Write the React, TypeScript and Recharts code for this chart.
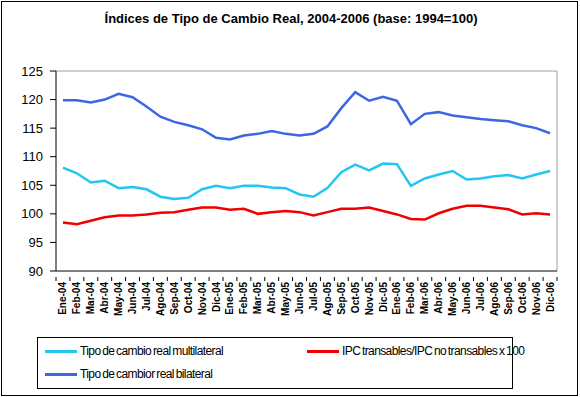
import { LineChart, Line, XAxis, YAxis, ReferenceLine } from "recharts";

const months = [
  "Ene-04", "Feb-04", "Mar-04", "Abr-04", "May-04", "Jun-04", "Jul-04", "Ago-04", "Sep-04", "Oct-04", "Nov-04", "Dic-04",
  "Ene-05", "Feb-05", "Mar-05", "Abr-05", "May-05", "Jun-05", "Jul-05", "Ago-05", "Sep-05", "Oct-05", "Nov-05", "Dic-05",
  "Ene-06", "Feb-06", "Mar-06", "Abr-06", "May-06", "Jun-06", "Jul-06", "Ago-06", "Sep-06", "Oct-06", "Nov-06", "Dic-06",
];

const multilateral = [
  108.1, 107.1, 105.5, 105.8, 104.5, 104.7, 104.3, 103.0, 102.6, 102.8, 104.3, 104.9,
  104.5, 104.9, 104.9, 104.6, 104.5, 103.4, 103.0, 104.5, 107.3, 108.6, 107.6, 108.8,
  108.7, 104.9, 106.2, 106.9, 107.5, 106.0, 106.2, 106.6, 106.8, 106.2, 106.9, 107.5,
];

const ipcRatio = [
  98.5, 98.2, 98.8, 99.4, 99.7, 99.7, 99.9, 100.2, 100.3, 100.7, 101.1, 101.1,
  100.7, 100.9, 100.0, 100.3, 100.5, 100.3, 99.7, 100.3, 100.9, 100.9, 101.1, 100.5,
  99.9, 99.1, 99.0, 100.1, 100.9, 101.4, 101.4, 101.1, 100.8, 99.9, 100.1, 99.9,
];

const bilateral = [
  119.9, 119.9, 119.5, 120.0, 121.0, 120.4, 118.8, 117.0, 116.1, 115.5, 114.8, 113.3,
  113.0, 113.7, 114.0, 114.5, 114.0, 113.7, 114.0, 115.3, 118.5, 121.3, 119.8, 120.5,
  119.8, 115.7, 117.5, 117.8, 117.2, 116.9, 116.6, 116.4, 116.2, 115.5, 115.0, 114.1,
];

const yTicks = [90, 95, 100, 105, 110, 115, 120, 125];

const series = [
  { key: "multilateral", name: "Tipo de cambio real multilateral", color: "#22C6F2" },
  { key: "ipcRatio", name: "IPC transables/IPC no transables x 100", color: "#F00000" },
  { key: "bilateral", name: "Tipo de cambior real bilateral", color: "#3D66E3" },
];

const data = months.map((m, i) => ({
  idx: i,
  month: m,
  multilateral: multilateral[i],
  ipcRatio: ipcRatio[i],
  bilateral: bilateral[i],
}));

function MonthTick(props: any) {
  const { x, y, payload, index, width } = props;
  const half = width / months.length / 2;
  return (
    <g>
      <line x1={x - half} y1={y - 2} x2={x - half} y2={y + 2} stroke="#000" />
      {index === months.length - 1 && (
        <line x1={x + half} y1={y - 2} x2={x + half} y2={y + 2} stroke="#000" />
      )}
      <text
        x={0}
        y={0}
        transform={`translate(${x + 3.5},${y + 3}) rotate(-90)`}
        textAnchor="end"
        fontSize={10}
        fontWeight="bold"
        fill="#000"
        fontFamily="Liberation Sans, Arial, sans-serif"
      >
        {months[payload.value]}
      </text>
    </g>
  );
}

function LegendItem({ color, name, x, y }: { color: string; name: string; x: number; y: number }) {
  return (
    <div style={{ position: "absolute", left: x, top: y, display: "flex", alignItems: "center", whiteSpace: "nowrap" }}>
      <div style={{ width: 32, height: 3, background: color, marginRight: 3 }} />
      <span style={{ fontSize: 12, letterSpacing: -0.6, wordSpacing: -1 }}>{name}</span>
    </div>
  );
}

export default function App() {
  return (
    <div
      style={{
        position: "absolute",
        left: 0,
        top: 0,
        width: 580,
        height: 397,
        background: "#fff",
        fontFamily: "Liberation Sans, Arial, sans-serif",
      }}
    >
      <div
        style={{
          position: "absolute",
          left: 1,
          top: 1,
          width: 577,
          height: 395,
          border: "1px solid #000",
          boxSizing: "border-box",
        }}
      />
      <div
        style={{
          position: "absolute",
          left: 0,
          top: 11,
          width: 582,
          textAlign: "center",
          fontSize: 13,
          fontWeight: "bold",
        }}
      >
        Índices de Tipo de Cambio Real, 2004-2006 (base: 1994=100)
      </div>
      <div style={{ position: "absolute", left: 0, top: 0 }}>
        <LineChart width={580} height={397} data={data} margin={{ top: 71, right: 23, bottom: 76, left: 0 }}>
          <ReferenceLine y={125} stroke="#a0a0a0" />
          <ReferenceLine x={35.5} stroke="#a0a0a0" />
          <XAxis
            dataKey="idx"
            type="number"
            domain={[-0.5, 35.5]}
            ticks={months.map((_, i) => i)}
            interval={0}
            tick={<MonthTick />}
            tickLine={false}
            axisLine={{ stroke: "#000" }}
            height={50}
          />
          <YAxis
            domain={[90, 125]}
            ticks={yTicks}
            interval={0}
            width={56}
            tickSize={6}
            tickMargin={7}
            axisLine={{ stroke: "#000" }}
            tickLine={{ stroke: "#000" }}
            tick={{ fontSize: 13, fill: "#000", fontFamily: "Liberation Sans, Arial, sans-serif" }}
          />
          {series.map((s) => (
            <Line
              key={s.key}
              dataKey={s.key}
              name={s.name}
              stroke={s.color}
              strokeWidth={2.5}
              dot={false}
              type="linear"
              isAnimationActive={false}
            />
          ))}
        </LineChart>
      </div>
      <div
        style={{
          position: "absolute",
          left: 37,
          top: 337,
          width: 476,
          height: 52,
          border: "1px solid #000",
          boxSizing: "border-box",
        }}
      />
      <LegendItem color={series[0].color} name={series[0].name} x={45} y={344} />
      <LegendItem color={series[1].color} name={series[1].name} x={307} y={344} />
      <LegendItem color={series[2].color} name={series[2].name} x={45} y={367} />
    </div>
  );
}
